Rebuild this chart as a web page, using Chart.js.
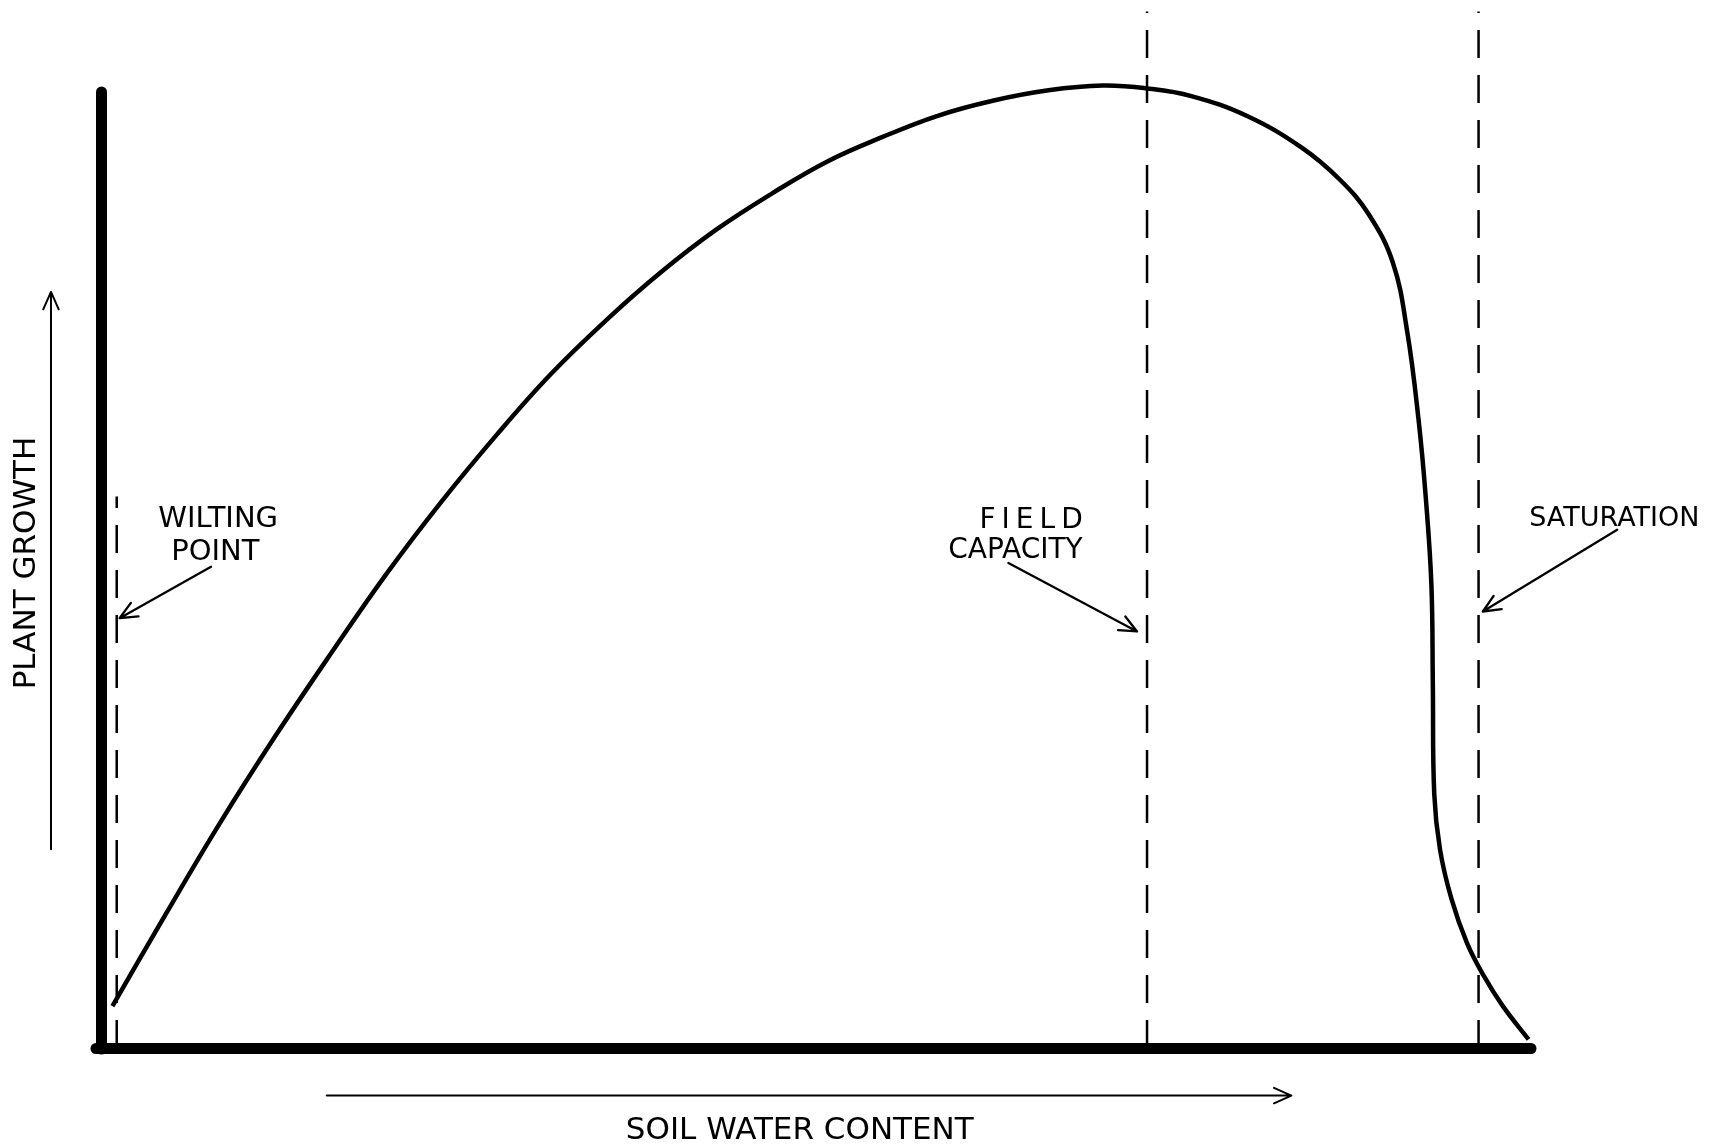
<!DOCTYPE html>
<html>
<head>
<meta charset="utf-8">
<script src="https://cdn.jsdelivr.net/npm/chart.js@4.4.1/dist/chart.umd.min.js"></script>
<style>
  html, body { margin: 0; padding: 0; background: #fff; }
  canvas { display: block; }
</style>
</head>
<body>
<canvas id="growthChart" width="1730" height="1145"></canvas>
<script>
// Plant growth vs soil water content (relative units, 0-100)
const waterContent = [0.8, 4.5, 8.3, 12.2, 16.1, 19.9, 23.8, 27.7, 31.5, 35.4, 39.2, 43.1, 47.0, 50.8,
    54.7, 58.5, 62.4, 66.3, 70.1, 73.2, 76.3, 80.2, 84.0, 86.7, 88.7, 90.4, 91.4, 92.2, 92.7, 93.1,
    93.2, 93.3, 93.7, 94.5, 95.6, 96.8, 98.1, 99.9];
const plantGrowth = [4.4, 14.0, 23.6, 32.8, 41.5, 49.7, 57.4, 64.5, 70.9, 76.6, 81.6, 86.1, 89.9, 93.2,
    95.8, 98.0, 99.6, 100.7, 101.2, 100.9, 100.1, 98.0, 94.7, 91.3, 87.7, 82.6, 75.4, 66.1, 58.0, 48.7,
    38.3, 26.7, 20.9, 15.7, 11.0, 7.5, 4.4, 0.9];

// Reference water contents (vertical dashed lines) and how far up each one is drawn
const markerNames = ['WILTING POINT', 'FIELD CAPACITY', 'SATURATION'];
const markerX = [1.1, 73.2, 96.4];
const markerTop = [58.0, 109.0, 109.0];

// Label arrows: tail -> head, in data units
const arrowFromX = [7.7, 63.5, 106.1];
const arrowFromY = [50.6, 51.0, 54.5];
const arrowToX = [1.3, 72.5, 96.7];
const arrowToY = [45.2, 43.8, 45.9];

const toPoints = (xs, ys) => xs.map((x, i) => ({ x: x, y: ys[i] }));

// one dataset per dashed line
const markerSets = markerX.map((x, i) => ({
    data: [{ x: x, y: 0 }, { x: x, y: markerTop[i] }],
    borderColor: '#000',
    borderWidth: 2.5,
    borderDash: [28, 17],
    pointRadius: 0,
    clip: false
}));

const sketchPlugin = {
    id: 'sketch',
    beforeDraw(chart) {
        chart.ctx.lineCap = 'round'; // rounded ends on the thick axes
    },
    afterDatasetsDraw(chart) {
        const { ctx, scales: { x, y } } = chart;
        const px = v => x.getPixelForValue(v);
        const py = v => y.getPixelForValue(v);

        const arrow = (x1, y1, x2, y2) => {
            const ang = Math.atan2(y2 - y1, x2 - x1);
            const len = 19, spread = 0.42;
            ctx.beginPath();
            ctx.moveTo(x1, y1);
            ctx.lineTo(x2, y2);
            ctx.moveTo(x2 - len * Math.cos(ang - spread), y2 - len * Math.sin(ang - spread));
            ctx.lineTo(x2, y2);
            ctx.lineTo(x2 - len * Math.cos(ang + spread), y2 - len * Math.sin(ang + spread));
            ctx.stroke();
        };
        // text placed by the vertical centre of the capitals
        const caps = (txt, cx, cy, size, align, spacing) => {
            spacing = spacing || 0;
            ctx.font = size + 'px "DejaVu Sans"';
            ctx.textAlign = align;
            ctx.letterSpacing = spacing + 'px';
            const shift = align === 'right' ? spacing : (align === 'center' ? spacing / 2 : 0);
            ctx.fillText(txt, cx + shift, cy + size * 0.365);
        };

        ctx.save();
        ctx.strokeStyle = '#000';
        ctx.fillStyle = '#000';
        ctx.lineCap = 'round';
        ctx.lineJoin = 'round';

        ctx.lineWidth = 2.3;
        arrowFromX.forEach((v, i) => arrow(px(v), py(arrowFromY[i]), px(arrowToX[i]), py(arrowToY[i])));

        // axis direction arrows
        ctx.lineWidth = 2;
        arrow(px(-3.5), py(20.9), px(-3.5), py(79.5));
        arrow(px(15.8), py(-5.0), px(83.3), py(-5.0));

        caps('WILTING', px(8.2), py(55.9), 29, 'center');
        caps('POINT', px(8.0), py(52.4), 29, 'center');
        caps('FIELD', px(68.7), py(55.8), 28, 'right', 6);
        caps('CAPACITY', px(68.7), py(52.6), 28, 'right');
        caps('SATURATION', px(105.9), py(55.9), 27, 'center');

        caps('SOIL WATER CONTENT', px(48.9), py(-8.4), 31, 'center');
        ctx.translate(px(-5.4), py(51.0));
        ctx.rotate(-Math.PI / 2);
        caps('PLANT GROWTH', 0, 0, 31, 'center');
        ctx.restore();
    },
    afterDraw(chart) {
        chart.ctx.lineCap = 'butt';
    }
};

new Chart(document.getElementById('growthChart'), {
    type: 'line',
    data: {
        datasets: [{
            data: toPoints(waterContent, plantGrowth),
            borderColor: '#000',
            borderWidth: 4.5,
            tension: 0.4,
            pointRadius: 0,
            clip: false
        }, ...markerSets]
    },
    options: {
        responsive: false,
        animation: false,
        layout: { padding: { left: 101, right: 200, top: 97, bottom: 97 } },
        plugins: { legend: { display: false }, tooltip: { enabled: false } },
        scales: {
            x: {
                type: 'linear', min: 0, max: 100,
                ticks: { display: false },
                grid: { display: false, drawTicks: false },
                border: { display: true, width: 11, color: '#000' }
            },
            y: {
                type: 'linear', min: 0, max: 100,
                ticks: { display: false },
                grid: { display: false, drawTicks: false },
                border: { display: true, width: 11, color: '#000' }
            }
        }
    },
    plugins: [sketchPlugin]
});
</script>
</body>
</html>
